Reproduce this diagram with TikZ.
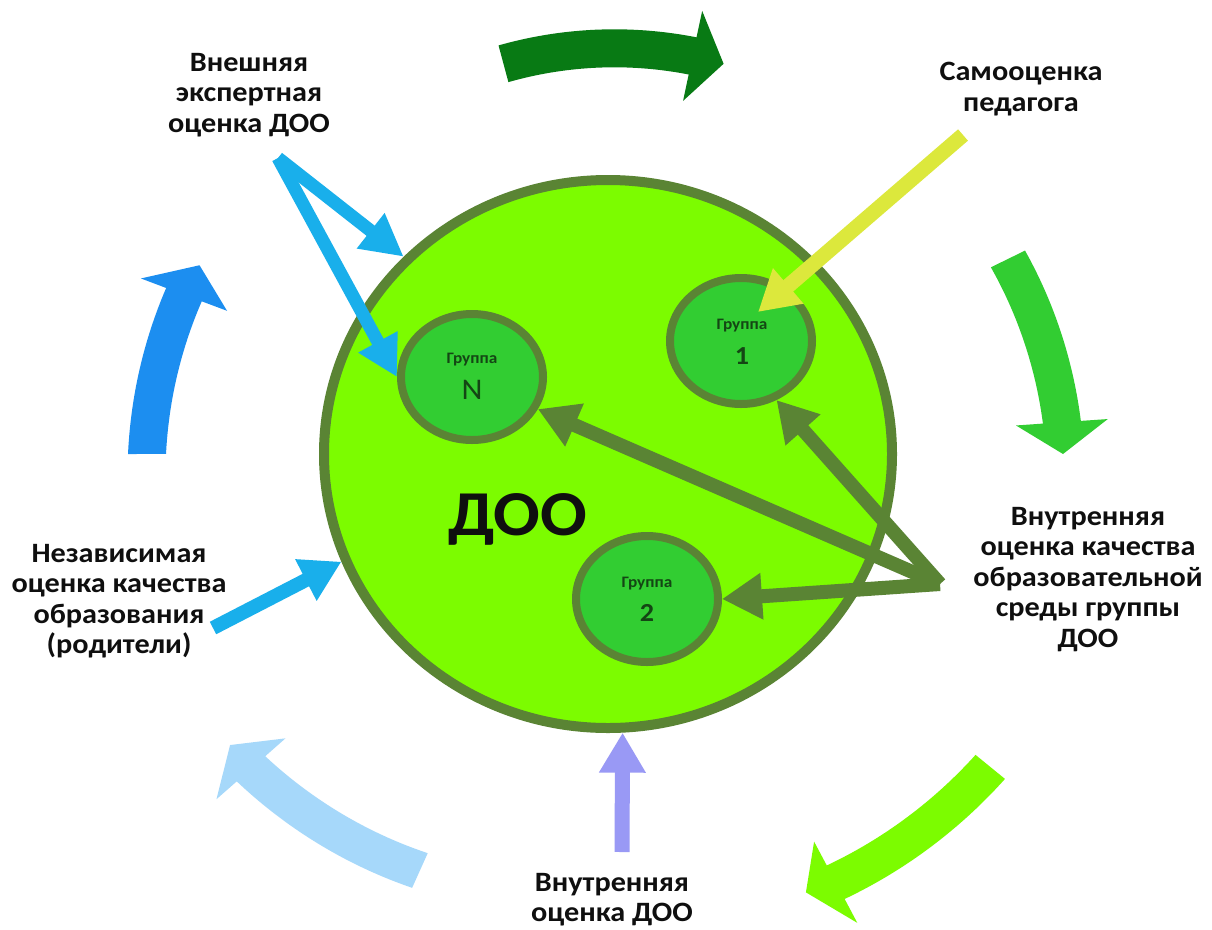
\documentclass[tikz,border=0pt]{standalone}
\usepackage{fontspec}
\setmainfont{Carlito}[FakeStretch=1.08]
\usetikzlibrary{arrows.meta,shapes.geometric}
\definecolor{lawn}{RGB}{124,252,0}
\definecolor{oliveg}{RGB}{90,132,52}
\definecolor{grpfill}{RGB}{50,205,50}
\definecolor{darkg}{RGB}{8,122,20}
\definecolor{limeg}{RGB}{50,205,50}
\definecolor{paleblue}{RGB}{166,216,250}
\definecolor{arcblue}{RGB}{28,142,240}
\definecolor{skyb}{RGB}{25,175,235}
\definecolor{yel}{RGB}{220,232,60}
\definecolor{lav}{RGB}{153,153,245}
\definecolor{gtxt}{RGB}{20,70,20}
\definecolor{txt}{RGB}{15,15,15}
% ring arrow: colour, start angle, start radius, head-base angle, head-base radius, tip angle, tip radius
\newcommand{\ringarrow}[7]{%
\fill[#1] plot[domain=0:1,samples=40,variable=\q]
 ({608+(#3+(#5-#3)*\q+19)*cos(#2+(#4-#2)*\q)},{454+(#3+(#5-#3)*\q+19)*sin(#2+(#4-#2)*\q)})
 -- ({608+(#5+46)*cos(#4)},{454+(#5+46)*sin(#4)})
 -- ({608+#7*cos(#6)},{454+#7*sin(#6)})
 -- ({608+(#5-46)*cos(#4)},{454+(#5-46)*sin(#4)})
 -- plot[domain=0:1,samples=40,variable=\q]
 ({608+(#5-(#5-#3)*\q-19)*cos(#4-(#4-#2)*\q)},{454+(#5-(#5-#3)*\q-19)*sin(#4-(#4-#2)*\q)})
 -- cycle;}
\begin{document}
\begin{tikzpicture}[x=1pt,y=-1pt,
  lbl/.style={font=\fontsize{28}{30.5}\selectfont\bfseries, text=txt, align=center, inner sep=0pt, anchor=north},
  grp/.style={ellipse, draw=oliveg, fill=grpfill, line width=8pt, minimum width=142pt, minimum height=126pt, inner sep=0pt},
  gsmall/.style={font=\fontsize{16}{16}\selectfont\bfseries, text=gtxt, inner sep=0pt, anchor=base},
  gbig/.style={font=\fontsize{26}{26}\selectfont\bfseries, text=gtxt, inner sep=0pt, anchor=base},
  sarrow/.style={line width=14pt, -{Triangle[width=44pt,length=40pt]}},
]
\fill[white] (0,0) rectangle (1212,929);
\useasboundingbox (0,0) rectangle (1212,929);

% circulating ring arrows
\ringarrow{darkg}{255}{404}{282}{407}{286.5}{407}
\ringarrow{limeg}{334}{445}{356}{455}{360}{455}
\ringarrow{lawn}{39.3}{494}{62}{485}{65.7}{481}
\ringarrow{paleblue}{114.3}{457}{138.6}{476}{142.4}{477}
\ringarrow{arcblue}{180}{461}{200.6}{453}{204.8}{450}

% main circle and groups
\node[ellipse, draw=oliveg, fill=lawn, line width=10pt, minimum width=568pt, minimum height=548pt, inner sep=0pt] (doo) at (608,454) {};
\node[font=\fontsize{64}{64}\selectfont\bfseries, text=txt, inner sep=0pt, anchor=base] (dootxt) at (518,535) {ДОО};
\node[grp] (gN) at (472,377) {};
\node[grp] (g1) at (741,341) {};
\node[grp] (g2) at (647,599) {};
\node[gsmall] (gNa) at (472,363) {Группа};
\node[font=\fontsize{30}{30}\selectfont, text=gtxt, inner sep=0pt, anchor=base] (gNb) at (472,399) {N};
\node[gsmall] (g1a) at (742,329) {Группа};
\node[gbig] (g1b) at (742,364) {1};
\node[gsmall] (g2a) at (647,587) {Группа};
\node[gbig] (g2b) at (647,621) {2};

% free ends of connectors
\coordinate (extsrc) at (278,158);
\coordinate (selfsrc) at (963,135);
\coordinate (selftip) at (758,312);
\coordinate (insrc) at (940,584);
\coordinate (vnsrc) at (622,852);
\coordinate (nezsrc) at (213,628);

% connectors
\draw[skyb, line width=13pt, -{Triangle[width=42pt,length=42pt]}] (extsrc) -- (doo.136);
\draw[skyb, line width=13pt, -{Triangle[width=42pt,length=40pt]}] (extsrc) -- (gN.west);
\draw[sarrow, yel, line width=15pt] (selfsrc) -- (selftip);
\draw[sarrow, oliveg] (insrc) -- (gN.-26);
\draw[sarrow, oliveg] (insrc) -- (g1.-59);
\draw[sarrow, oliveg] (insrc) -- (g2.east);
\draw[sarrow, lav, line width=15pt] (vnsrc) -- (doo.-87);
\draw[sarrow, skyb] (nezsrc) -- (doo.202);

% labels
\node[lbl] (ext) at (249,53) {Внешняя\\экспертная\\оценка ДОО};
\node[lbl] (ped) at (1021,62) {Самооценка\\педагога};
\node[lbl] (nez) at (119,544) {Независимая\\оценка качества\\образования\\(родители)};
\node[lbl] (vnq) at (1088,507) {Внутренняя\\оценка качества\\образовательной\\среды группы\\ДОО};
\node[lbl] (vnd) at (612,873) {Внутренняя\\оценка ДОО};
\end{tikzpicture}
\end{document}
